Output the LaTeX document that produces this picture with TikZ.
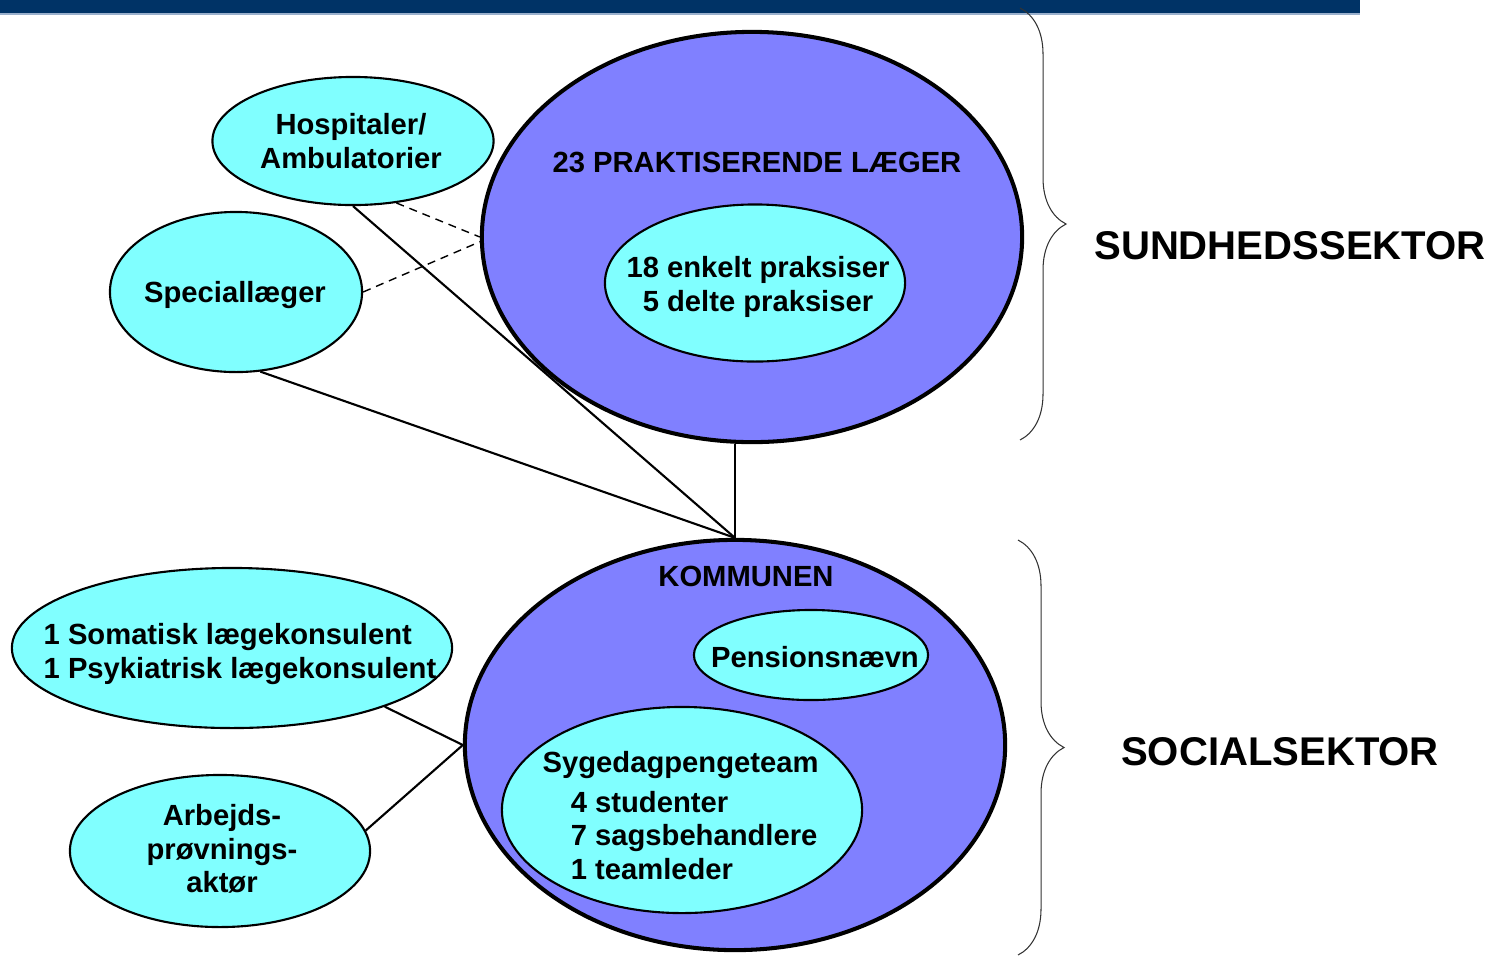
\documentclass[tikz,border=0pt]{standalone}
\usepackage{fontspec}
\setmainfont{Liberation Sans}
\usetikzlibrary{shapes.geometric,decorations.pathreplacing}
\definecolor{barblue}{HTML}{003366}
\definecolor{barline}{HTML}{9AB0CC}
\definecolor{bigfill}{HTML}{8080FF}
\definecolor{smallfill}{HTML}{80FFFF}
\begin{document}
\begin{tikzpicture}[x=0.01cm,y=-0.01cm,
   big/.style={ellipse,draw=black,line width=1.15pt,fill=bigfill,inner sep=0pt},
   small/.style={ellipse,draw=black,line width=0.6pt,fill=smallfill,inner sep=0pt},
   txt/.style={inner sep=0pt,font=\fontsize{8.3}{9.5}\selectfont\bfseries},
   sector/.style={inner sep=0pt,font=\fontsize{11.4}{13}\selectfont\bfseries},
   link/.style={black,line width=0.6pt},
   hint/.style={black,line width=0.4pt,dash pattern=on 2.3pt off 1.7pt},
   bracket/.style={black!80,line width=0.3pt,decorate,decoration={brace,amplitude=0.46cm}}]
   \useasboundingbox (0,0) rectangle (1497,960);
   \fill [barblue] (0,0) rectangle (1360,13);
   \draw [barline,line width=0.45pt] (0,14) -- (1360,14);
   \node [big,minimum width=5.4cm,minimum height=4.1cm] (prax) at (752,237) {};
   \node [small,minimum width=3cm,minimum height=1.57cm] (enkelt) at (755,283) {};
   \node [small,minimum width=2.81cm,minimum height=1.28cm] (hosp) at (353,141) {};
   \node [small,minimum width=2.52cm,minimum height=1.6cm] (spec) at (236,292) {};
   \node [big,minimum width=5.4cm,minimum height=4.1cm] (komm) at (735,745) {};
   \node [small,minimum width=2.34cm,minimum height=0.9cm] (pens) at (811,655) {};
   \node [small,minimum width=3.6cm,minimum height=2.06cm] (syge) at (682,810) {};
   \node [small,minimum width=4.4cm,minimum height=1.6cm] (soma) at (232,648) {};
   \node [small,minimum width=3cm,minimum height=1.52cm] (arb) at (220,851) {};
   \node [txt] (praxtxt) at (757,162) {23 PRAKTISERENDE LÆGER};
   \node [txt,align=center] (enkelttxt) at (758,287) {18 enkelt praksiser\\5 delte praksiser};
   \node [txt,align=center] (hosptxt) at (351,141) {Hospitaler/\\Ambulatorier};
   \node [txt] (spectxt) at (235,295) {Speciallæger};
   \node [txt] (kommtxt) at (746,576) {KOMMUNEN};
   \node [txt] (penstxt) at (815,657) {Pensionsnævn};
   \node [txt,align=left,anchor=base west] (sygetxt) at (542,879)
      {Sygedagpengeteam\\[1.8pt]\hspace*{8pt}4 studenter\\\hspace*{8pt}7 sagsbehandlere\\\hspace*{8pt}1 teamleder};
   \node [txt,align=left] (sometxt) at (240,654) {1 Somatisk lægekonsulent\\1 Psykiatrisk lægekonsulent};
   \node [txt,align=center] (arbtxt) at (222,849) {Arbejds-\\prøvnings-\\aktør};
   \draw [link] (hosp.south) -- (komm.north);
   \draw [link] (spec.-73) -- (komm.north);
   \draw [link] (komm.north) -- (komm.north |- prax.south);
   \draw [hint] (hosp.-55) -- (prax.west);
   \draw [hint] (spec.east) -- (prax.181);
   \draw [link] (soma.-21) -- (komm.west);
   \draw [link] (arb.8) -- (komm.west);
   \coordinate (sundtop) at (1020,8);
   \coordinate (sundbot) at (1020,440);
   \coordinate (socitop) at (1018,540);
   \coordinate (socibot) at (1018,955);
   \draw [bracket] (sundtop) -- (sundbot);
   \draw [bracket] (socitop) -- (socibot);
   \node [sector] (sund) at (1290,246) {SUNDHEDSSEKTOR};
   \node [sector] (soci) at (1280,752) {SOCIALSEKTOR};
\end{tikzpicture}
\end{document}
